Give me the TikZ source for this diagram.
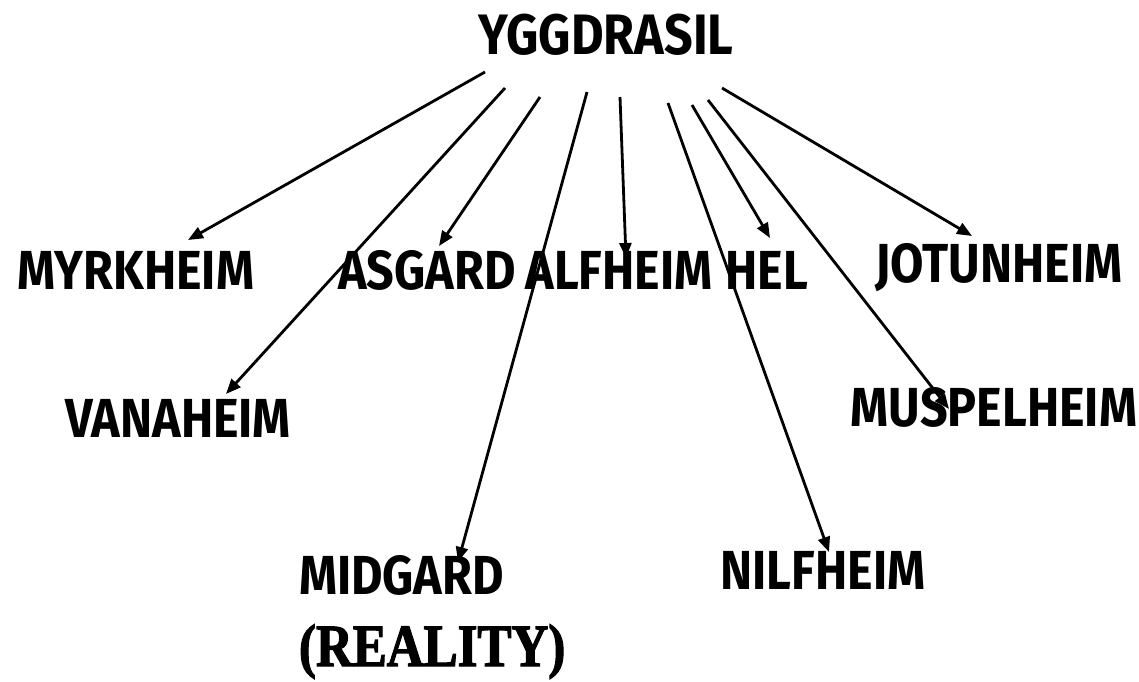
\documentclass[tikz,border=0pt]{standalone}
\usepackage{fontspec}
\usepackage{tikz}
\usetikzlibrary{arrows.meta}
\newfontfamily\handfont[FakeStretch=0.88]{Fira Sans}
\newfontfamily\ornfont[FakeStretch=0.85,FakeBold=2]{Liberation Serif}
\tikzset{
  >={Triangle[length=15pt,width=12pt]},
  every picture/.style={line width=2pt},
  realm/.style={font=\handfont\bfseries\fontsize{55}{60}\selectfont,inner sep=0pt},
  root/.style={realm,font=\handfont\bfseries\fontsize{57}{62}\selectfont},
  arr/.style={->,draw=black,line width=2.8pt},
}
\begin{document}
\begin{tikzpicture}[x=1pt,y=-1pt]
  \useasboundingbox[fill=white] (0,0) rectangle (1139,681);
  % the tree
  \node[root] (ygg) at (606,35) {YGGDRASIL};
  % first row
  \node[realm] (myrk) at (136,270) {MYRKHEIM};
  \node[realm] (asg) at (427,270) {ASGARD};
  \node[realm] (alf) at (619,270) {ALFHEIM};
  \node[realm] (hel) at (767,270) {HEL};
  \node[realm] (jot) at (999,268) {JOTUNHEIM};
  % second row
  \node[realm] (van) at (178,418) {VANAHEIM};
  \node[realm] (musp) at (994,407) {MUSPELHEIM};
  % bottom
  \node[realm,align=left,anchor=north west] (mid) at (298,554) {MIDGARD\\[12pt]{\ornfont\fontsize{60}{62}\selectfont(REALITY)}};
  \node[realm] (nilf) at (823,570) {NILFHEIM};
  % where the branches leave the tree
  \coordinate (s1) at (485,72);
  \coordinate (s2) at (505,88);
  \coordinate (s3) at (540,97);
  \coordinate (s4) at (587,92);
  \coordinate (s5) at (620,97);
  \coordinate (s6) at (668,103);
  \coordinate (s7) at (692,105);
  \coordinate (s8) at (708,100);
  \coordinate (s9) at (722,88);
  % where they land
  \coordinate (e1) at (188,240);
  \coordinate (e2) at (226,394);
  \coordinate (e3) at (439,246);
  \coordinate (e4) at (458,562);
  \coordinate (e5) at (626,258);
  \coordinate (e6) at (829,552);
  \coordinate (e7) at (770,238);
  \coordinate (e8) at (949,409);
  \coordinate (e9) at (972,236);
  \foreach \i in {1,...,9} {
    \draw[arr] (s\i) -- (e\i);
  }
\end{tikzpicture}
\end{document}
